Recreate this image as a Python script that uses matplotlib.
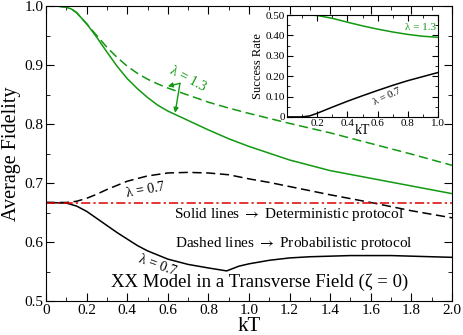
import matplotlib
matplotlib.use("Agg")
import matplotlib.pyplot as plt
from matplotlib.ticker import MultipleLocator, FixedLocator

plt.rcParams['font.family'] = ['Liberation Serif', 'DejaVu Serif']
plt.rcParams['mathtext.fontset'] = 'stix'

# main panel: average fidelity vs kT
kt_s13 = [0.0, 0.05, 0.1, 0.125, 0.15, 0.2, 0.25, 0.3, 0.35, 0.4, 0.45, 0.5, 0.55, 0.6, 0.7, 0.8, 0.9,
          1.0, 1.2, 1.4, 1.6, 1.8, 2.0]
f_s13 = [1.000, 1.000, 0.998, 0.995, 0.989, 0.970, 0.947, 0.922, 0.898, 0.877, 0.860, 0.845, 0.832,
         0.822, 0.806, 0.790, 0.775, 0.762, 0.739, 0.721, 0.708, 0.695, 0.682]
kt_p13 = [0.0, 0.05, 0.1, 0.125, 0.15, 0.2, 0.25, 0.3, 0.35, 0.4, 0.45, 0.5, 0.55, 0.6, 0.7, 0.8, 0.9,
          1.0, 1.2, 1.4, 1.6, 1.8, 2.0]
f_p13 = [1.000, 1.000, 0.998, 0.995, 0.989, 0.970, 0.950, 0.930, 0.913, 0.898, 0.886, 0.876, 0.868,
         0.861, 0.849, 0.837, 0.827, 0.818, 0.801, 0.785, 0.767, 0.749, 0.730]
kt_p07 = [0.0, 0.1, 0.15, 0.2, 0.25, 0.3, 0.4, 0.5, 0.6, 0.7, 0.8, 0.9, 1.0, 1.1, 1.2, 1.4, 1.6,
          1.8, 2.0]
f_p07 = [0.667, 0.667, 0.669, 0.674, 0.681, 0.689, 0.703, 0.712, 0.717, 0.718, 0.717, 0.714, 0.707,
         0.701, 0.694, 0.680, 0.667, 0.653, 0.641]
kt_s07 = [0.0, 0.1, 0.15, 0.2, 0.25, 0.3, 0.35, 0.4, 0.45, 0.5, 0.6, 0.7, 0.8, 0.89, 0.95, 1.0, 1.1,
          1.2, 1.3, 1.5, 1.7, 2.0]
f_s07 = [0.667, 0.666, 0.661, 0.652, 0.640, 0.628, 0.616, 0.605, 0.594, 0.585, 0.571, 0.562, 0.556,
         0.551, 0.559, 0.563, 0.569, 0.573, 0.575, 0.577, 0.577, 0.574]
classical = 2.0 / 3.0

# inset: success rate
kt_in = [0.0, 0.1, 0.15, 0.2, 0.3, 0.4, 0.5, 0.6, 0.7, 0.8, 0.9, 1.0]
sr13 = [0.500, 0.500, 0.500, 0.498, 0.484, 0.465, 0.447, 0.431, 0.417, 0.405, 0.396, 0.391]
sr07 = [0.000, 0.000, 0.005, 0.018, 0.048, 0.077, 0.104, 0.130, 0.155, 0.178, 0.198, 0.218]

green = '#119911'
lw = 1.1

fig = plt.figure(figsize=(4.63, 3.35), dpi=100)
ax = fig.add_axes([0.0994, 0.1015, 0.8768, 0.8805])

ax.plot(kt_s13, f_s13, color=green, lw=lw)
ax.plot(kt_p13, f_p13, color=green, lw=lw, dashes=(6, 3))
ax.plot(kt_s07, f_s07, color='black', lw=lw)
ax.plot(kt_p07, f_p07, color='black', lw=lw, dashes=(6, 3))
ax.axhline(classical, color='#dd0000', lw=lw, dashes=(6, 2, 1.5, 2))

ax.set_xlim(0, 2.0)
ax.set_ylim(0.5, 1.0)
ax.set_xticks([0, 0.2, 0.4, 0.6, 0.8, 1.0, 1.2, 1.4, 1.6, 1.8, 2.0])
ax.set_xticklabels(['0', '0.2', '0.4', '0.6', '0.8', '1.0', '1.2', '1.4', '1.6', '1.8', '2.0'])
ax.xaxis.set_minor_locator(MultipleLocator(0.1))
ax.set_yticks([0.5, 0.6, 0.7, 0.8, 0.9, 1.0])
ax.set_yticklabels(['0.5', '0.6', '0.7', '0.8', '0.9', '1.0'])
ax.yaxis.set_minor_locator(MultipleLocator(0.05))
ax.tick_params(which='both', direction='in', top=True, right=True, labelsize=11, pad=2)
ax.tick_params(which='major', length=6)
ax.tick_params(which='minor', length=3)
ax.set_xlabel('kT', fontsize=15, labelpad=0)
ax.set_ylabel('Average Fidelity', fontsize=14.5, labelpad=2)

ax.text(0.70, 0.877, 'λ = 1.3', color=green, fontsize=10, rotation=-28, ha='center', va='center')
ax.annotate('', xy=(0.60, 0.864), xytext=(0.66, 0.869),
            arrowprops=dict(arrowstyle='-|>', color=green, lw=1.0, mutation_scale=7, shrinkA=0, shrinkB=0))
ax.annotate('', xy=(0.636, 0.819), xytext=(0.66, 0.869),
            arrowprops=dict(arrowstyle='-|>', color=green, lw=1.0, mutation_scale=7, shrinkA=0, shrinkB=0))
ax.text(0.49, 0.687, 'λ = 0.7', fontsize=10, rotation=10, ha='center', va='center')
ax.text(0.55, 0.561, 'λ = 0.7', fontsize=10, rotation=-20, ha='center', va='center')

ax.text(1.2, 0.646, r'Solid lines $\rightarrow$ Deterministic protocol', fontsize=11, ha='center', va='center')
ax.text(1.22, 0.598, r'Dashed lines $\rightarrow$ Probabilistic protocol', fontsize=11, ha='center', va='center')
ax.text(1.05, 0.531, 'XX Model in a Transverse Field (ζ = 0)', fontsize=13.5, ha='center', va='center')

# inset
ins = fig.add_axes([0.620, 0.651, 0.326, 0.304])
ins.plot(kt_in, sr13, color=green, lw=lw)
ins.plot(kt_in, sr07, color='black', lw=lw)
ins.set_xlim(0, 1.0)
ins.set_ylim(0, 0.5)
ins.xaxis.set_major_locator(FixedLocator([0.2, 0.4, 0.6, 0.8, 1.0]))
ins.xaxis.set_minor_locator(MultipleLocator(0.1))
ins.set_xticklabels(['0.2', '0.4', '0.6', '0.8', '1.0'])
ins.set_yticks([0, 0.1, 0.2, 0.3, 0.4, 0.5])
ins.set_yticklabels(['0', '0.10', '0.20', '0.30', '0.40', '0.50'])
ins.yaxis.set_minor_locator(MultipleLocator(0.05))
ins.tick_params(which='both', direction='in', top=True, right=True, labelsize=8, pad=1.5)
ins.tick_params(which='major', length=4)
ins.tick_params(which='minor', length=2)
ins.set_xlabel('kT', fontsize=10, labelpad=-3)
ins.set_ylabel('Success Rate', fontsize=9, labelpad=1)
ins.text(0.99, 0.44, 'λ = 1.3', color=green, fontsize=8, ha='right', va='center')
ins.text(0.66, 0.10, 'λ = 0.7', fontsize=7.5, rotation=25, ha='center', va='center')

fig.savefig('out.png', dpi=100)
